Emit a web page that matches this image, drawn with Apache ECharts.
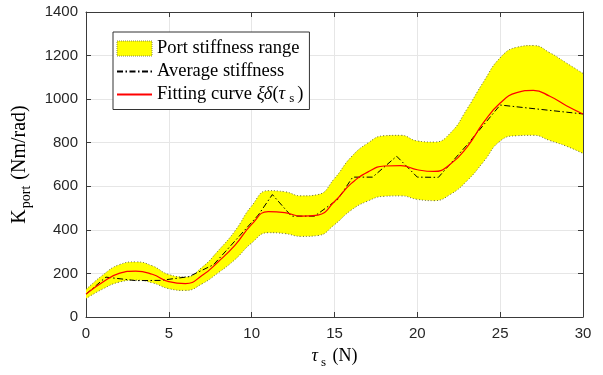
<!DOCTYPE html>
<html><head><meta charset="utf-8">
<script src="https://cdn.jsdelivr.net/npm/echarts@6/dist/echarts.min.js"></script>
<style>html,body{margin:0;padding:0;background:#fff}#c{width:603px;height:375px}</style>
</head><body><div id="c"></div>
<script>
// fitting curve samples
const fitX = [0,1,2,3,4,5,6,7,8,9,10,11,12,13,14,15,16,17,18,19,20,21,22,23,24,25,26,27,28,29,30];
const fitY = [105,160,200,211,196,162,153,190,255,330,425,484,479,463,468,530,612,665,693,695,676,668,702,780,893,982,1030,1040,1013,970,932];
// stiffness range (band) edges
const upperY = [126,192,240,253,235,195,184,228,306,396,510,580,575,556,562,636,734,798,832,834,808,803,845,955,1080,1190,1238,1246,1213,1166,1118];
const lowerY = [84,128,160,169,157,130,122,152,204,264,340,387,383,370,374,424,490,532,554,556,540,534,563,625,713,808,832,834,810,784,751];
// average stiffness polyline
const avgX = [0,1.2,3.0,4.5,6.2,7.7,10.4,11.25,12.4,13.8,15.2,16.1,17.3,18.75,20.0,21.27,23.0,25.0,30];
const avgY = [105,183,167,168,185,240,468,562,463,463,540,642,642,738,642,641,790,973,932];
// axes
const xMin = 0, xMax = 30, xStep = 5;
const yMin = 0, yMax = 1400, yStep = 200;

const pairs = (xs, ys) => xs.map((x, i) => [x, ys[i]]);
const bandDiff = fitX.map((x, i) => upperY[i] - lowerY[i]);

const serif = 'Liberation Serif, Times New Roman, serif';
const sans = 'Liberation Sans, Arial, sans-serif';
const axisCol = '#3a3a3a';

const chart = echarts.init(document.getElementById('c'), null, {renderer: 'canvas'});
const richX = {
  t: {fontFamily: serif, fontSize: 18, color: '#000'},
  it: {fontFamily: serif, fontSize: 18, fontStyle: 'italic', color: '#000'},
  sub: {fontFamily: serif, fontSize: 13, color: '#000', padding: [12, 2, 0, 3]}
};
const richY = {
  t: {fontFamily: serif, fontSize: 20, color: '#000'},
  sub: {fontFamily: serif, fontSize: 14, color: '#000', padding: [13, 1, 0, 1]}
};
const richLeg = {
  t: {fontFamily: serif, fontSize: 18.5, color: '#000'},
  it: {fontFamily: serif, fontSize: 18.5, fontStyle: 'italic', color: '#000'},
  sub: {fontFamily: serif, fontSize: 13, color: '#000', padding: [9, 3, 0, 4]}
};

const baseX = {type: 'value', min: xMin, max: xMax, interval: xStep};
const baseY = {type: 'value', min: yMin, max: yMax, interval: yStep};
const lineAx = {show: true, onZero: false, lineStyle: {color: axisCol, width: 1}};
const tickAx = {show: true, inside: true, length: 5, lineStyle: {color: axisCol}};

chart.setOption({
  animation: false,
  backgroundColor: '#fff',
  grid: {left: 86, right: 20, top: 12, bottom: 58, containLabel: false},
  xAxis: [
    Object.assign({}, baseX, {
      position: 'bottom',
      name: '{it|τ}{sub|s}{t| (N)}',
      nameLocation: 'middle', nameGap: 27,
      nameTextStyle: {rich: richX},
      axisLine: lineAx, axisTick: tickAx,
      axisLabel: {fontFamily: sans, fontSize: 15, color: '#262626', margin: 9},
      splitLine: {show: true, lineStyle: {color: '#e6e6e6', width: 1}}
    }),
    Object.assign({}, baseX, {
      position: 'top', axisLine: lineAx, axisTick: tickAx,
      axisLabel: {show: false}, splitLine: {show: false}
    }),
    {
      type: 'category', data: fitX.map(String), boundaryGap: false, show: false,
      position: 'bottom'
    }
  ],
  yAxis: [
    Object.assign({}, baseY, {
      position: 'left',
      name: '{t|K}{sub|port}{t| (Nm/rad)}',
      nameLocation: 'middle', nameGap: 51,
      nameTextStyle: {rich: richY},
      axisLine: lineAx, axisTick: tickAx,
      axisLabel: {fontFamily: sans, fontSize: 15, color: '#262626', margin: 8,
        formatter: v => String(v)},
      splitLine: {show: true, lineStyle: {color: '#e6e6e6', width: 1}}
    }),
    Object.assign({}, baseY, {
      position: 'right', axisLine: lineAx, axisTick: tickAx,
      axisLabel: {show: false}, splitLine: {show: false}
    })
  ],
  legend: {
    orient: 'vertical',
    left: 113, top: 32,
    padding: [7, 6, 4, 3],
    itemGap: 4,
    itemWidth: 35, itemHeight: 15,
    borderColor: '#333', borderWidth: 1,
    backgroundColor: '#fff',
    textStyle: {fontFamily: serif, fontSize: 18.5, color: '#000', rich: richLeg},
    formatter: function (name) {
      if (name === 'fit') return '{t|Fitting curve }{it|ξδ}{t|(}{it|τ}{sub|s}{t|)}';
      return '{t|' + name + '}';
    },
    data: [
      {name: 'Port stiffness range', icon: 'rect',
        itemStyle: {color: '#ffff00', borderColor: '#8a8a40', borderWidth: 1, borderType: 'dotted'}},
      {name: 'Average stiffness', itemStyle: {opacity: 0}},
      {name: 'fit', itemStyle: {opacity: 0}}
    ]
  },
  series: [
    {
      name: 'bandBase', type: 'line', stack: 'band', smooth: true, symbol: 'none',
      xAxisIndex: 2,
      data: lowerY, lineStyle: {opacity: 0}, silent: true, z: 1
    },
    {
      name: 'Port stiffness range', type: 'line', stack: 'band', smooth: true, symbol: 'none',
      xAxisIndex: 2,
      data: bandDiff, lineStyle: {opacity: 0}, itemStyle: {color: '#ffff00'},
      areaStyle: {color: '#ffff00', opacity: 1}, z: 2
    },
    {
      name: 'bandUpper', type: 'line', smooth: true, symbol: 'none',
      data: pairs(fitX, upperY), lineStyle: {color: '#6b6b3a', width: 1, type: [1, 2]}, z: 3
    },
    {
      name: 'bandLower', type: 'line', smooth: true, symbol: 'none',
      data: pairs(fitX, lowerY), lineStyle: {color: '#6b6b3a', width: 1, type: [1, 2]}, z: 3
    },
    {
      name: 'Average stiffness', type: 'line', symbol: 'none',
      data: pairs(avgX, avgY), itemStyle: {color: '#000'},
      lineStyle: {color: '#000', width: 1, type: [6, 2.5, 1.5, 2.5]}, z: 4
    },
    {
      name: 'fit', type: 'line', smooth: true, symbol: 'none',
      data: pairs(fitX, fitY), itemStyle: {color: '#ff0000'},
      lineStyle: {color: '#ff0000', width: 1.2}, z: 5
    }
  ]
});
</script>
</body></html>
